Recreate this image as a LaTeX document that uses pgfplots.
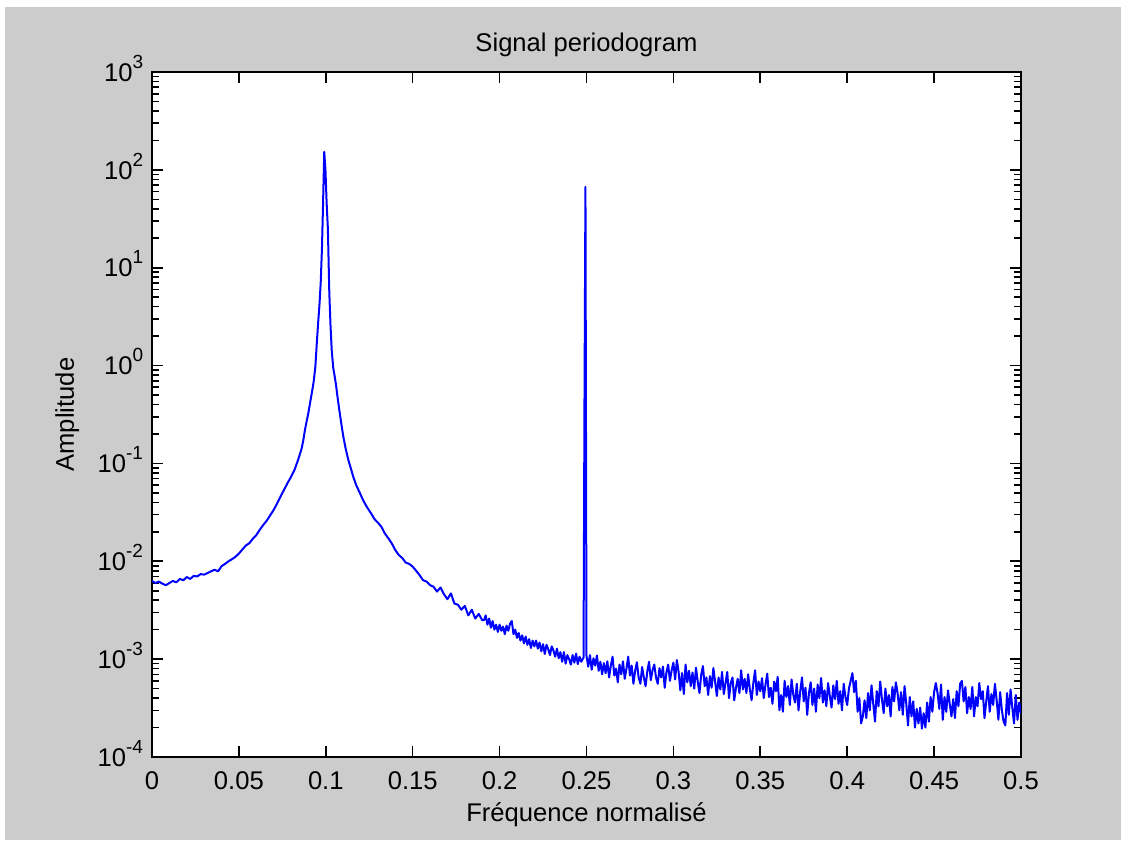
\documentclass[border=0pt]{standalone}
\usepackage{pgfplots}
\pgfplotsset{compat=1.18}
\usepackage{fontspec}
\setmainfont{Liberation Sans}
\definecolor{figgray}{RGB}{204,204,204}
\newcommand{\dec}[1]{10\raisebox{6.5pt}{\fontsize{9.5}{10}\selectfont #1}}
\begin{document}
\fontsize{12.8}{15}\selectfont
\begin{tikzpicture}
\useasboundingbox (0,0) rectangle (560.5pt,420.5pt);
\fill[white] (0,0) rectangle (560.5pt,420.5pt);
\fill[figgray] (2.5pt,0.5pt) rectangle (560.5pt,417pt);
\begin{axis}[
  at={(76pt,42pt)}, anchor=south west,
  scale only axis, width=434.5pt, height=342.5pt,
  ymode=log, log basis y=10,
  xmin=0, xmax=0.5, ymin=1e-4, ymax=1e3,
  axis background/.style={fill=white},
  axis line style={line width=0.8pt, black},
  every tick/.style={black, line width=0.8pt},
  major tick length=5.5pt, minor tick length=3.3pt,
  tick align=inside, tick pos=both,
  xtick={0,0.05,0.1,0.15,0.2,0.25,0.3,0.35,0.4,0.45,0.5},
  xticklabels={0,0.05,0.1,0.15,0.2,0.25,0.3,0.35,0.4,0.45,0.5},
  ytick={1e-4,1e-3,1e-2,1e-1,1,10,100,1000},
  yticklabels={\dec{-4},\dec{-3},\dec{-2},\dec{-1},\dec{0},\dec{1},\dec{2},\dec{3}},
  minor ytick={2e-4,3e-4,4e-4,5e-4,6e-4,7e-4,8e-4,9e-4,
    2e-3,3e-3,4e-3,5e-3,6e-3,7e-3,8e-3,9e-3,
    2e-2,3e-2,4e-2,5e-2,6e-2,7e-2,8e-2,9e-2,
    0.2,0.3,0.4,0.5,0.6,0.7,0.8,0.9,
    2,3,4,5,6,7,8,9,
    20,30,40,50,60,70,80,90,
    200,300,400,500,600,700,800,900},
  xticklabel style={font=\fontsize{12.8}{15}\selectfont, yshift=-2.6pt},
  yticklabel style={font=\fontsize{12.8}{15}\selectfont, anchor=base east, yshift=-4.6pt},
  title={Signal periodogram},
  title style={font=\fontsize{12.8}{15}\selectfont, at={(axis description cs:0.5,1)}, anchor=base, yshift=4.5pt},
  xlabel={Fréquence normalisé},
  xlabel style={font=\fontsize{12.8}{15}\selectfont, at={(axis description cs:0.5,0)}, anchor=base, yshift=-32pt},
  ylabel={Amplitude},
  ylabel style={font=\fontsize{12.8}{15}\selectfont, at={(axis description cs:-0.0898,0.5)}, anchor=base},
]
\addplot[blue, line width=1pt, line join=round, no markers] table {
f v
0.000 6.3e-3
0.002 6.0e-3
0.004 6.2e-3
0.006 5.9e-3
0.008 5.7e-3
0.010 6.0e-3
0.012 6.3e-3
0.014 6.1e-3
0.016 6.6e-3
0.018 6.4e-3
0.020 6.9e-3
0.022 6.6e-3
0.024 7.1e-3
0.026 7.0e-3
0.028 7.4e-3
0.030 7.3e-3
0.032 7.6e-3
0.034 7.9e-3
0.036 8.2e-3
0.038 7.9e-3
0.040 8.9e-3
0.042 9.4e-3
0.044 1.00e-2
0.046 1.05e-2
0.048 1.11e-2
0.050 1.20e-2
0.052 1.32e-2
0.054 1.45e-2
0.056 1.53e-2
0.058 1.70e-2
0.060 1.85e-2
0.062 2.10e-2
0.064 2.35e-2
0.066 2.60e-2
0.068 2.95e-2
0.070 3.35e-2
0.072 3.9e-2
0.074 4.6e-2
0.076 5.4e-2
0.078 6.3e-2
0.080 7.3e-2
0.082 8.6e-2
0.084 0.108
0.086 0.14
0.087 0.17
0.088 0.22
0.089 0.27
0.090 0.33
0.091 0.42
0.092 0.53
0.093 0.68
0.094 0.98
0.095 1.9
0.0957 2.9
0.0964 4.3
0.0971 7.2
0.0978 16
0.0984 43
0.0991 153
0.0998 100
0.1005 45
0.1012 25
0.1020 5.7
0.1027 2.6
0.1034 1.44
0.1043 0.94
0.1051 0.78
0.1059 0.63
0.1068 0.47
0.1078 0.35
0.1090 0.25
0.1101 0.187
0.1115 0.14
0.1130 0.108
0.1145 0.088
0.1158 0.073
0.1175 0.060
0.1197 0.0495
0.1215 0.042
0.1235 0.0362
0.126 0.031
0.128 0.027
0.130 0.0248
0.132 0.0225
0.134 0.0192
0.136 0.0172
0.138 0.0152
0.140 0.0130
0.142 0.0116
0.144 0.0108
0.146 0.0097
0.148 0.0094
0.150 0.0088
0.152 0.0080
0.154 0.0072
0.156 0.0064
0.158 0.0062
0.160 0.0057
0.162 0.0055
0.164 0.0049
0.166 0.0054
0.168 0.0046
0.170 0.0041
0.172 0.0047
0.174 0.0037
0.176 0.0036
0.178 0.0032
0.180 0.0035
0.182 0.0028
0.184 0.0032
0.186 0.0026
0.188 0.0029
0.190 0.0025
0.191 2.5e-3
0.192 2.8e-3
0.193 2.25e-3
0.194 2.6e-3
0.195 2.1e-3
0.196 2.45e-3
0.197 2.0e-3
0.198 2.25e-3
0.199 1.9e-3
0.200 2.25e-3
0.201 1.95e-3
0.202 2.15e-3
0.203 1.8e-3
0.204 2.2e-3
0.205 1.95e-3
0.206 2.3e-3
0.207 2.45e-3
0.208 1.8e-3
0.209 2.0e-3
0.210 1.65e-3
0.211 1.85e-3
0.212 1.55e-3
0.213 1.75e-3
0.214 1.45e-3
0.215 1.7e-3
0.216 1.4e-3
0.217 1.6e-3
0.218 1.3e-3
0.219 1.55e-3
0.220 1.35e-3
0.221 1.55e-3
0.222 1.28e-3
0.223 1.48e-3
0.224 1.2e-3
0.225 1.42e-3
0.226 1.13e-3
0.227 1.4e-3
0.228 1.26e-3
0.229 1.1e-3
0.230 1.35e-3
0.231 1.22e-3
0.232 1.06e-3
0.233 1.28e-3
0.234 1.02e-3
0.235 1.18e-3
0.236 9.4e-4
0.237 1.18e-3
0.238 9.0e-4
0.239 1.1e-3
0.240 1.0e-3
0.241 8.8e-4
0.242 1.1e-3
0.243 9.2e-4
0.244 1.14e-3
0.245 8.9e-4
0.246 1.06e-3
0.247 9.4e-4
0.2483 1.04e-3
0.2488 0.29
0.2494 67
0.2500 1.08e-3
0.251 8.4e-4
0.252 1.1e-3
0.253 7.8e-4
0.254 1.02e-3
0.255 8.6e-4
0.256 1.09e-3
0.257 7.6e-4
0.258 9.4e-4
0.259 7.0e-4
0.260 9.1e-4
0.261 7.2e-4
0.262 9.5e-4
0.263 6.5e-4
0.264 8.6e-4
0.265 1.06e-3
0.266 6.8e-4
0.267 8.0e-4
0.268 5.8e-4
0.269 8.8e-4
0.270 7.0e-4
0.271 9.5e-4
0.272 6.3e-4
0.273 8.0e-4
0.274 1.06e-3
0.275 6.8e-4
0.276 8.6e-4
0.277 5.6e-4
0.278 7.6e-4
0.279 9.3e-4
0.280 6.5e-4
0.281 5.6e-4
0.282 8.3e-4
0.283 6.5e-4
0.284 5.3e-4
0.285 7.5e-4
0.286 9.4e-4
0.287 6.1e-4
0.288 7.7e-4
0.289 8.8e-4
0.290 6.5e-4
0.291 5.6e-4
0.292 8.1e-4
0.293 6.5e-4
0.294 8.4e-4
0.295 5.1e-4
0.296 7.3e-4
0.297 8.8e-4
0.298 6.0e-4
0.299 7.7e-4
0.300 9.2e-4
0.301 6.2e-4
0.302 9.8e-4
0.303 7.4e-4
0.304 4.8e-4
0.305 7.2e-4
0.306 4.4e-4
0.307 8.8e-4
0.308 5.8e-4
0.309 7.6e-4
0.310 5.3e-4
0.311 7.3e-4
0.312 5.0e-4
0.313 8.2e-4
0.314 5.9e-4
0.315 4.5e-4
0.316 6.9e-4
0.317 8.5e-4
0.318 5.3e-4
0.319 6.5e-4
0.320 4.3e-4
0.321 6.7e-4
0.322 5.1e-4
0.323 8.1e-4
0.324 5.9e-4
0.325 4.2e-4
0.326 6.5e-4
0.327 4.9e-4
0.328 7.4e-4
0.329 4.4e-4
0.330 5.7e-4
0.331 7.4e-4
0.332 4.0e-4
0.333 5.7e-4
0.334 6.5e-4
0.335 3.8e-4
0.336 5.1e-4
0.337 6.3e-4
0.338 4.5e-4
0.339 7.7e-4
0.340 4.9e-4
0.341 6.3e-4
0.342 4.5e-4
0.343 7.0e-4
0.344 4.9e-4
0.345 3.8e-4
0.346 5.7e-4
0.347 7.7e-4
0.348 4.3e-4
0.349 5.9e-4
0.350 4.7e-4
0.351 6.4e-4
0.352 4.0e-4
0.353 5.5e-4
0.354 7.1e-4
0.355 4.1e-4
0.356 5.1e-4
0.357 3.5e-4
0.358 5.9e-4
0.359 4.7e-4
0.360 6.6e-4
0.361 3.0e-4
0.362 4.3e-4
0.363 2.9e-4
0.364 6.0e-4
0.365 4.1e-4
0.366 5.3e-4
0.367 3.4e-4
0.368 6.2e-4
0.369 4.3e-4
0.370 3.6e-4
0.371 5.6e-4
0.372 3.0e-4
0.373 4.7e-4
0.374 6.5e-4
0.375 3.7e-4
0.376 5.1e-4
0.377 2.7e-4
0.378 4.5e-4
0.379 5.8e-4
0.380 3.4e-4
0.381 5.0e-4
0.382 2.9e-4
0.383 5.5e-4
0.384 4.0e-4
0.385 6.4e-4
0.386 3.6e-4
0.387 4.8e-4
0.388 3.3e-4
0.389 5.7e-4
0.390 4.2e-4
0.391 3.2e-4
0.392 5.4e-4
0.393 3.9e-4
0.394 6.0e-4
0.395 3.5e-4
0.396 4.7e-4
0.397 3.0e-4
0.398 5.6e-4
0.399 4.1e-4
0.400 3.4e-4
0.401 5.0e-4
0.402 6.0e-4
0.403 7.2e-4
0.404 4.6e-4
0.405 6.0e-4
0.406 2.9e-4
0.407 4.0e-4
0.408 2.2e-4
0.409 2.6e-4
0.410 3.8e-4
0.411 2.5e-4
0.412 4.5e-4
0.413 3.0e-4
0.414 5.4e-4
0.415 3.5e-4
0.416 2.3e-4
0.417 4.7e-4
0.418 3.3e-4
0.419 5.9e-4
0.420 3.9e-4
0.421 2.8e-4
0.422 5.0e-4
0.423 3.3e-4
0.424 4.3e-4
0.425 2.6e-4
0.426 5.2e-4
0.427 3.7e-4
0.428 5.8e-4
0.429 4.5e-4
0.430 3.0e-4
0.431 4.6e-4
0.432 2.7e-4
0.433 5.3e-4
0.434 3.5e-4
0.435 2.1e-4
0.436 4.1e-4
0.437 2.6e-4
0.438 3.7e-4
0.439 2.0e-4
0.440 3.1e-4
0.441 2.2e-4
0.442 3.2e-4
0.443 1.95e-4
0.444 2.8e-4
0.445 2.0e-4
0.446 3.6e-4
0.447 2.3e-4
0.448 4.1e-4
0.449 2.9e-4
0.450 4.6e-4
0.451 5.7e-4
0.452 4.5e-4
0.453 3.1e-4
0.454 5.5e-4
0.455 2.4e-4
0.456 4.1e-4
0.457 2.9e-4
0.458 4.8e-4
0.459 3.5e-4
0.460 2.6e-4
0.461 3.9e-4
0.462 2.5e-4
0.463 4.7e-4
0.464 3.3e-4
0.465 5.6e-4
0.466 6.0e-4
0.467 3.7e-4
0.468 5.2e-4
0.469 2.8e-4
0.470 4.1e-4
0.471 3.1e-4
0.472 5.2e-4
0.473 2.6e-4
0.474 4.1e-4
0.475 3.3e-4
0.476 5.7e-4
0.477 3.9e-4
0.478 4.7e-4
0.479 2.5e-4
0.480 3.7e-4
0.481 5.3e-4
0.482 2.9e-4
0.483 4.4e-4
0.484 3.4e-4
0.485 5.6e-4
0.486 3.8e-4
0.487 2.4e-4
0.488 4.6e-4
0.489 3.0e-4
0.490 2.3e-4
0.491 2.1e-4
0.492 4.5e-4
0.493 2.7e-4
0.494 4.9e-4
0.495 3.2e-4
0.496 2.2e-4
0.497 4.3e-4
0.498 2.4e-4
0.499 3.6e-4
0.500 2.8e-4
};
\end{axis}
\end{tikzpicture}
\end{document}
